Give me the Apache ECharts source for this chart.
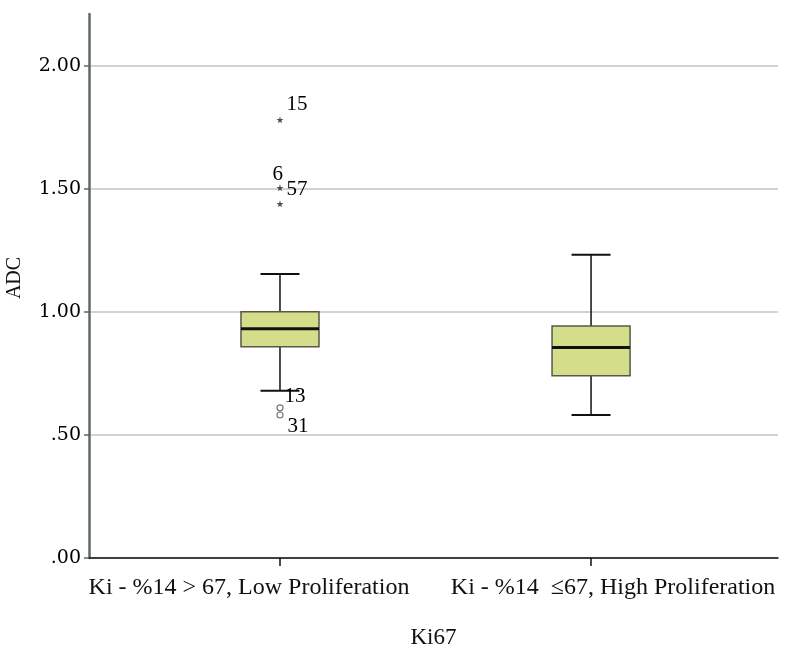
<!DOCTYPE html>
<html>
<head>
<meta charset="utf-8">
<script src="https://cdn.jsdelivr.net/npm/echarts@6/dist/echarts.min.js"></script>
<style>html,body{margin:0;padding:0;background:#fff;}#c{width:794px;height:664px;}</style>
</head>
<body>
<div id="c"></div>
<script>
// ---- data ----
var categories = ['Ki - %14 > 67, Low Proliferation', 'Ki - %14  \u226467, High Proliferation'];
var categoryPos = [1, 2];
// [min, Q1, median, Q3, max]
var boxValues = [
  [0.679, 0.858, 0.931, 1.000, 1.154],
  [0.581, 0.740, 0.855, 0.943, 1.232]
];
// extreme outliers (stars)
var extremeX = [1, 1, 1];
var extremeY = [1.780, 1.504, 1.439];
var extremeLabels = ['15', '6', '57'];
// mild outliers (circles)
var mildX = [1, 1];
var mildY = [0.610, 0.581];
var mildLabels = ['13', '31'];
var yTicks = [0, 0.5, 1.0, 1.5, 2.0];

// ---- styles ----
var labelOffsets = { '15': [-2, -15], '6': [-16, -13], '57': [-2, -14], '13': [-4, -11], '31': [-1, 11] };
var serif = 'Liberation Serif';

var boxData = boxValues.map(function (b, i) { return [categoryPos[i]].concat(b); });
function outlierData(xs, ys, labels) {
  return ys.map(function (y, i) {
    return {
      value: [xs[i], y],
      label: {
        show: true, formatter: labels[i], position: 'right', offset: labelOffsets[labels[i]],
        color: '#000', fontFamily: serif, fontSize: 21, opacity: 1
      }
    };
  });
}

var chart = echarts.init(document.getElementById('c'));
chart.setOption({
  animation: false,
  backgroundColor: '#fff',
  grid: { left: 89, right: 16, top: 14, bottom: 106, outerBoundsMode: 'none', containLabel: false },
  xAxis: {
    type: 'value',
    min: 0.386, max: 2.601,
    name: 'Ki67', nameLocation: 'middle', nameGap: 68,
    nameTextStyle: { fontFamily: serif, fontSize: 23, color: '#111' },
    axisLine: { show: true, lineStyle: { color: '#111', width: 1.5 } },
    axisTick: { show: true, length: 8, customValues: categoryPos, lineStyle: { color: '#111', width: 1.5 } },
    axisLabel: {
      customValues: categoryPos,
      margin: 18,
      fontFamily: serif, fontSize: 24, color: '#111',
      formatter: function (v) {
        var i = categoryPos.indexOf(Math.round(v));
        return i === 0 ? '{a|' + categories[0] + '}' : '{b|' + categories[1] + '}';
      },
      rich: {
        a: { fontFamily: serif, fontSize: 24, color: '#111', padding: [0, 62, 0, 0] },
        b: { fontFamily: serif, fontSize: 24, color: '#111', padding: [0, 0, 0, 44] }
      }
    },
    splitLine: { show: false }
  },
  yAxis: {
    type: 'value',
    min: 0, max: 2.21, interval: 0.5,
    name: 'ADC', nameLocation: 'middle', nameGap: 64,
    nameTextStyle: { fontFamily: serif, fontSize: 20, color: '#111', padding: [0, 0, 0, 16] },
    axisLine: { show: true, lineStyle: { color: '#5f6868', width: 2.5 } },
    axisTick: { show: true, length: 5, customValues: yTicks, lineStyle: { color: '#5f6868', width: 1.5 } },
    axisLabel: {
      customValues: yTicks,
      margin: 8,
      fontFamily: 'DejaVu Serif', fontSize: 19, color: '#000',
      formatter: function (v) { return v.toFixed(2).replace(/^0/, ''); }
    },
    splitLine: { show: true, lineStyle: { color: '#cdd5d5', width: 2 } }
  },
  series: [
    {
      type: 'custom',
      data: boxData,
      encode: { x: 0, y: [1, 2, 3, 4, 5] },
      z: 3,
      renderItem: function (params, api) {
        var x = api.value(0);
        var pMin = api.coord([x, api.value(1)]);
        var pQ1 = api.coord([x, api.value(2)]);
        var pMed = api.coord([x, api.value(3)]);
        var pQ3 = api.coord([x, api.value(4)]);
        var pMax = api.coord([x, api.value(5)]);
        var cx = pMin[0];
        var hw = 39, cw = 19.5;
        var lineStyle = { stroke: '#111', lineWidth: 1.5 };
        return {
          type: 'group',
          children: [
            { type: 'line', shape: { x1: cx, y1: pMax[1], x2: cx, y2: pQ3[1] }, style: lineStyle },
            { type: 'line', shape: { x1: cx, y1: pQ1[1], x2: cx, y2: pMin[1] }, style: lineStyle },
            { type: 'line', shape: { x1: cx - cw, y1: pMax[1], x2: cx + cw, y2: pMax[1] }, style: { stroke: '#111', lineWidth: 2 } },
            { type: 'line', shape: { x1: cx - cw, y1: pMin[1], x2: cx + cw, y2: pMin[1] }, style: { stroke: '#111', lineWidth: 2 } },
            { type: 'rect', shape: { x: cx - hw, y: pQ3[1], width: 2 * hw, height: pQ1[1] - pQ3[1] },
              style: { fill: '#d3dd8a', stroke: '#55584a', lineWidth: 1.5 } },
            { type: 'line', shape: { x1: cx - hw, y1: pMed[1], x2: cx + hw, y2: pMed[1] }, style: { stroke: '#111', lineWidth: 3 } }
          ]
        };
      }
    },
    {
      type: 'scatter',
      data: outlierData(extremeX, extremeY, extremeLabels),
      symbol: 'path://M50,0 L61,35 L98,35 L68,57 L79,91 L50,70 L21,91 L32,57 L2,35 L39,35 Z',
      symbolSize: 7,
      itemStyle: { color: '#222' },
      z: 4
    },
    {
      type: 'scatter',
      data: outlierData(mildX, mildY, mildLabels),
      symbol: 'circle',
      symbolSize: 6,
      itemStyle: { color: 'rgba(255,255,255,0)', borderColor: '#555', borderWidth: 1.2 },
      z: 4
    }
  ]
});
</script>
</body>
</html>
